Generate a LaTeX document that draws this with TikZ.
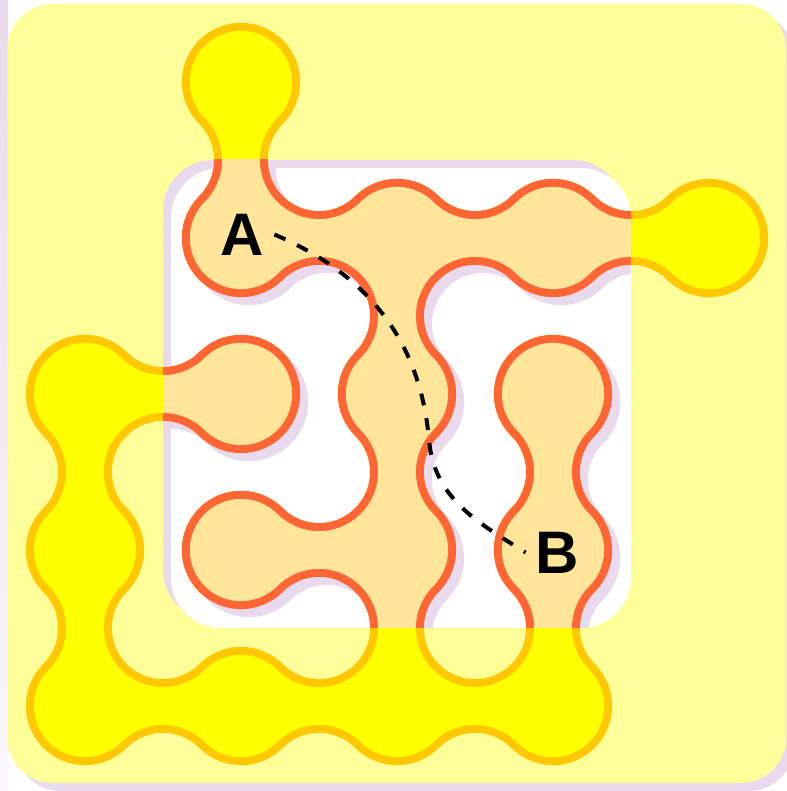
\documentclass[tikz,border=0pt]{standalone}
\usepackage{fontspec}
\setmainfont{Liberation Sans}
\usetikzlibrary{calc}

\definecolor{paleyellow}{HTML}{FFFF99}
\definecolor{brightyellow}{HTML}{FFFF00}
\definecolor{gold}{HTML}{FFC800}
\definecolor{peach}{HTML}{FFE599}
\definecolor{tomato}{HTML}{FF6633}
\definecolor{lilac}{HTML}{E9DAED}
\definecolor{lilacfade}{HTML}{FBF7FC}

\newcommand\nodeR{51.154}
\newcommand\dualR{59.154}
\newcommand\tanOff{36.172}
\newcommand\mazeparts[1]{%
  \foreach \cell in {c10,c11,c21,c31,c41,c02,c12,c22,c32,c03,c13,c23,c33,c04,c14,c24,c34}
    \path[#1] (\cell) circle[radius=\nodeR];
  \foreach \ca/\cb in {c11/c21,c21/c31,c31/c41,c02/c12,c13/c23,c04/c14,c14/c24,c24/c34}
    \path[#1] ($(\ca)+(\tanOff,\tanOff)$) arc[start angle=225,end angle=315,radius=\dualR]
      -- ($(\cb)+(-\tanOff,-\tanOff)$) arc[start angle=45,end angle=135,radius=\dualR] -- cycle;
  \foreach \ca/\cb in {c10/c11,c21/c22,c22/c23,c23/c24,c02/c03,c03/c04,c32/c33,c33/c34}
    \path[#1] ($(\ca)+(\tanOff,-\tanOff)$) arc[start angle=135,end angle=225,radius=\dualR]
      -- ($(\cb)+(-\tanOff,\tanOff)$) arc[start angle=-45,end angle=45,radius=\dualR] -- cycle;
}

\begin{document}
\begin{tikzpicture}[x=1pt,y=1pt]
\tikzstyle{lbl}=[font=\bfseries\fontsize{60}{60}\selectfont,inner sep=10pt]
\tikzstyle{skin}=[line width=16pt,line join=round]
\useasboundingbox (0,0) rectangle (786,791);
\foreach \i in {0,...,4}
  \foreach \j in {0,...,4}
    \coordinate (c\i\j) at (85+156*\i,709-156*\j);
\shade[top color=lilac,bottom color=lilacfade] (0,0) rectangle (8,791);
\fill[lilac,rounded corners=45pt] (15.5,0) rectangle (794,779);
\fill[paleyellow,rounded corners=45pt] (7.5,8) rectangle (786,787);
\fill[lilac,rounded corners=50pt] (163,171) rectangle (623,631);
\fill[white,rounded corners=50pt] (171,163) rectangle (631,623);
\mazeparts{skin,draw=gold}
\mazeparts{fill=brightyellow}
\begin{scope}
  \clip[rounded corners=50pt] (171,163) rectangle (631,623);
  \begin{scope}[transform canvas={shift={(8pt,-8pt)}}]
    \mazeparts{skin,draw=lilac,fill=lilac}
  \end{scope}
\end{scope}
\begin{scope}
  \clip (163,163) rectangle (631,631);
  \mazeparts{skin,draw=tomato}
  \mazeparts{fill=peach}
\end{scope}
\node[lbl] (A) at ($(c11)+(1.5,3.5)$) {A};
\node[lbl] (B) at ($(c33)+(4.5,-2.5)$) {B};
\coordinate (bend) at (429,351);
\draw[line width=4pt,dash pattern=on 12pt off 13pt] (A.east) to[out=-23,in=95] (bend) to[out=-85,in=148] (B.west);
\end{tikzpicture}
\end{document}
